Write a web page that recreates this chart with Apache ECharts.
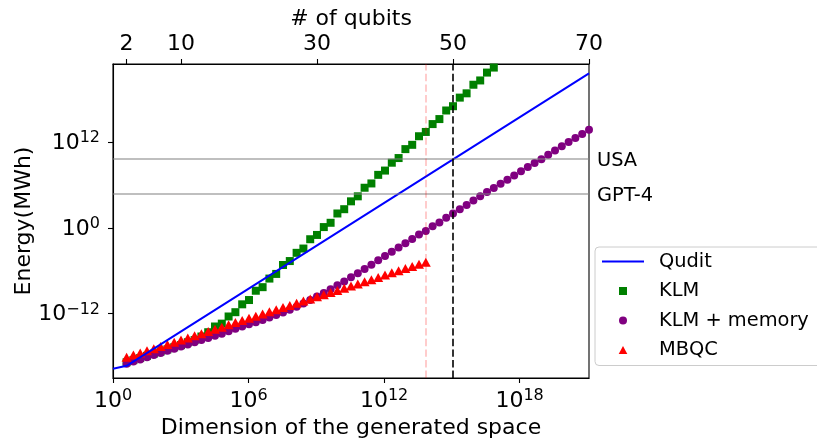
<!DOCTYPE html>
<html>
<head>
<meta charset="utf-8">
<script src="https://cdn.jsdelivr.net/npm/echarts@6/dist/echarts.min.js"></script>
<style>
  html, body { margin: 0; padding: 0; background: #fff; }
  #chart { width: 817px; height: 438px; }
</style>
</head>
<body>
<div id="chart"></div>
<script>
// qubit counts (top axis); dimension of the space is 2^n
const qubits = [2, 3, 4, 5, 6, 7, 8, 9, 10, 11, 12, 13, 14, 15, 16, 17, 18, 19, 20, 21,
  22, 23, 24, 25, 26, 27, 28, 29, 30, 31, 32, 33, 34, 35, 36, 37, 38, 39, 40, 41,
  42, 43, 44, 45, 46, 47, 48, 49, 50, 51, 52, 53, 54, 55, 56, 57, 58, 59, 60, 61,
  62, 63, 64, 65, 66, 67, 68, 69, 70];

// energies as log10(MWh)
const quditQubits = [0, 2, 70];
const quditLog = [-19.7, -19.3, 21.6];

const klmLog = [-18.8, -18.5, -18.2, -17.9, -17.6, -17.3, -17.0, -16.7, -16.4, -16.0,
  -15.7, -15.2, -14.6, -13.8, -13.4, -12.4, -11.8, -10.7, -10.1, -8.8,
  -8.3, -7.1, -6.45, -5.2, -4.65, -3.5, -2.9, -1.6, -1.0, 0.1,
  0.7, 2.0, 2.6, 3.7, 4.4, 5.6, 6.2, 7.4, 8.0, 9.1,
  9.75, 11.0, 11.6, 12.8, 13.4, 14.5, 15.2, 16.4, 17.0, 18.2,
  18.8, 20.0, 20.6, 21.7, 22.4];

const klmMemLog = [-19.0, -18.7, -18.4, -18.1, -17.8, -17.5, -17.2, -16.9, -16.6, -16.3,
  -16.0, -15.7, -15.4, -15.1, -14.8, -14.45, -14.1, -13.8, -13.5, -13.2,
  -12.9, -12.55, -12.2, -11.85, -11.45, -11.05, -10.6, -10.1, -9.6, -9.1,
  -8.6, -8.05, -7.5, -6.9, -6.35, -5.75, -5.15, -4.55, -3.95, -3.35,
  -2.75, -2.15, -1.55, -0.95, -0.45, 0.2, 0.75, 1.4, 2.0, 2.6,
  3.2, 3.8, 4.4, 5.0, 5.55, 6.15, 6.7, 7.3, 7.9, 8.5,
  9.05, 9.6, 10.2, 10.8, 11.4, 12.0, 12.55, 13.1, 13.7];

const mbqcLog = [-18.1, -17.8, -17.5, -17.2, -16.9, -16.6, -16.3, -16.0, -15.7, -15.4,
  -15.1, -14.8, -14.5, -14.2, -13.9, -13.55, -13.25, -12.95, -12.65, -12.35,
  -12.05, -11.75, -11.45, -11.15, -10.85, -10.55, -10.25, -9.95, -9.65, -9.35,
  -9.05, -8.75, -8.45, -8.15, -7.85, -7.55, -7.25, -6.95, -6.6, -6.3,
  -6.0, -5.7, -5.4, -5.1, -4.8];

// reference levels (log10 MWh) and qubit markers
const refNames = ['USA', 'GPT-4'];
const refLog = [9.6, 4.73];
const qubitLines = [46, 50];

// tick labels
const dimTicks = [0, 6, 12, 18];
const energyTicks = [-12, 0, 12];
const qubitTicks = [2, 10, 30, 50, 70];

const FONT = 'DejaVu Sans';

// legend icons: corner dots fix the 42x8 box so the marker keeps its shape
const BOX = 'M0,0 L0,0 M42,8 L42,8 ';
const ICON_SQUARE = 'path://' + BOX + 'M17,0 L25,0 L25,8 L17,8 Z';
const ICON_CIRCLE = 'path://' + BOX + 'M25,4 A4,4 0 1,1 17,4 A4,4 0 1,1 25,4 Z';
const ICON_TRIANGLE = 'path://' + BOX + 'M21,0 L25.3,8 L16.7,8 Z';

function pairs(values) {
  return values.map((v, i) => [qubits[i], v]);
}

function powLabel(v) {
  return '{b|10}{s|' + String(v).replace('-', '\u2212') + '}';
}

const powRich = {
  b: { fontSize: 22, fontFamily: FONT, color: '#000', verticalAlign: 'bottom' },
  s: { fontSize: 16, fontFamily: FONT, color: '#000', verticalAlign: 'bottom', padding: [0, 0, 8, 0] }
};

const chart = echarts.init(document.getElementById('chart'), null, { renderer: 'canvas' });

chart.setOption({
  animation: false,
  backgroundColor: '#fff',
  grid: {
    left: 113, top: 64, width: 476, height: 314,
    outerBoundsMode: 'none', containLabel: false,
    show: true, borderColor: '#000', borderWidth: 1.1, backgroundColor: 'transparent'
  },
  legend: {
    orient: 'vertical',
    left: 595, top: 247,
    padding: [5, 30, 6, 6],
    itemWidth: 42, itemHeight: 8, itemGap: 10.5,
    backgroundColor: 'rgba(255,255,255,0.8)',
    borderColor: '#cccccc', borderWidth: 1, borderRadius: 4,
    textStyle: { fontFamily: FONT, fontSize: 19.4, color: '#000', padding: [0, 0, 0, 10] },
    data: [
      { name: 'Qudit', itemStyle: { opacity: 0 } },
      { name: 'KLM', icon: ICON_SQUARE },
      { name: 'KLM + memory', icon: ICON_CIRCLE },
      { name: 'MBQC', icon: ICON_TRIANGLE }
    ]
  },
  xAxis: [
    {
      type: 'value', position: 'bottom', min: 0, max: 70 * Math.log10(2),
      name: 'Dimension of the generated space', nameLocation: 'middle', nameGap: 39,
      nameMoveOverlap: false,
      nameTextStyle: { fontFamily: FONT, fontSize: 22, color: '#000' },
      axisLine: { onZero: false, lineStyle: { color: '#000', width: 1.1 } },
      axisTick: { customValues: dimTicks, length: 5, lineStyle: { color: '#000', width: 1.1 } },
      axisLabel: { customValues: dimTicks, margin: 10, formatter: powLabel, rich: powRich },
      splitLine: { show: false }
    },
    {
      type: 'value', position: 'top', min: 0, max: 70,
      name: '# of qubits', nameLocation: 'middle', nameGap: 34,
      nameMoveOverlap: false,
      nameTextStyle: { fontFamily: FONT, fontSize: 22, color: '#000' },
      axisLine: { onZero: false, lineStyle: { color: '#000', width: 1.1 } },
      axisTick: { customValues: qubitTicks, length: 5, lineStyle: { color: '#000', width: 1.1 } },
      axisLabel: { customValues: qubitTicks, margin: 9, fontFamily: FONT, fontSize: 22, color: '#000' },
      splitLine: { show: false }
    }
  ],
  yAxis: {
    type: 'value', min: -21, max: 22.9,
    name: 'Energy(MWh)', nameLocation: 'middle', nameGap: 78,
    nameMoveOverlap: false,
    nameTextStyle: { fontFamily: FONT, fontSize: 22, color: '#000' },
    axisLine: { onZero: false, lineStyle: { color: '#000', width: 1.1 } },
    axisTick: { customValues: energyTicks, length: 5, lineStyle: { color: '#000', width: 1.1 } },
    axisLabel: { customValues: energyTicks, margin: 13, formatter: powLabel, rich: powRich },
    splitLine: { show: false }
  },
  series: [
    {
      name: 'Qudit', type: 'line', xAxisIndex: 1, symbol: 'none',
      lineStyle: { color: '#0000ff', width: 2 }, itemStyle: { color: '#0000ff' },
      data: quditQubits.map((q, i) => [q, quditLog[i]])
    },
    {
      name: 'KLM', type: 'scatter', xAxisIndex: 1, symbol: 'rect', symbolSize: 8,
      itemStyle: { color: '#008000', opacity: 1 }, data: pairs(klmLog)
    },
    {
      name: 'KLM + memory', type: 'scatter', xAxisIndex: 1, symbol: 'circle', symbolSize: 8,
      itemStyle: { color: '#800080', opacity: 1 }, data: pairs(klmMemLog)
    },
    {
      name: 'MBQC', type: 'scatter', xAxisIndex: 1, symbol: 'triangle', symbolSize: [10, 9],
      itemStyle: { color: '#ff0000', opacity: 1 }, data: pairs(mbqcLog),
      markLine: {
        silent: true, symbol: 'none', animation: false,
        data: refNames.map((n, i) => ({
          name: n, yAxis: refLog[i],
          lineStyle: { color: 'rgba(128,128,128,0.5)', width: 2, type: 'solid' },
          label: { show: true, position: 'end', formatter: n, distance: 8, offset: [0, 2],
            fontFamily: FONT, fontSize: 19.4, color: '#000' }
        })).concat([
          { xAxis: qubitLines[0], label: { show: false },
            lineStyle: { color: 'rgba(255,0,0,0.2)', width: 2, type: [7.4, 3.2] } },
          { xAxis: qubitLines[1], label: { show: false },
            lineStyle: { color: 'rgba(0,0,0,0.8)', width: 2, type: [7.4, 3.2] } }
        ])
      }
    }
  ]
});
</script>
</body>
</html>
